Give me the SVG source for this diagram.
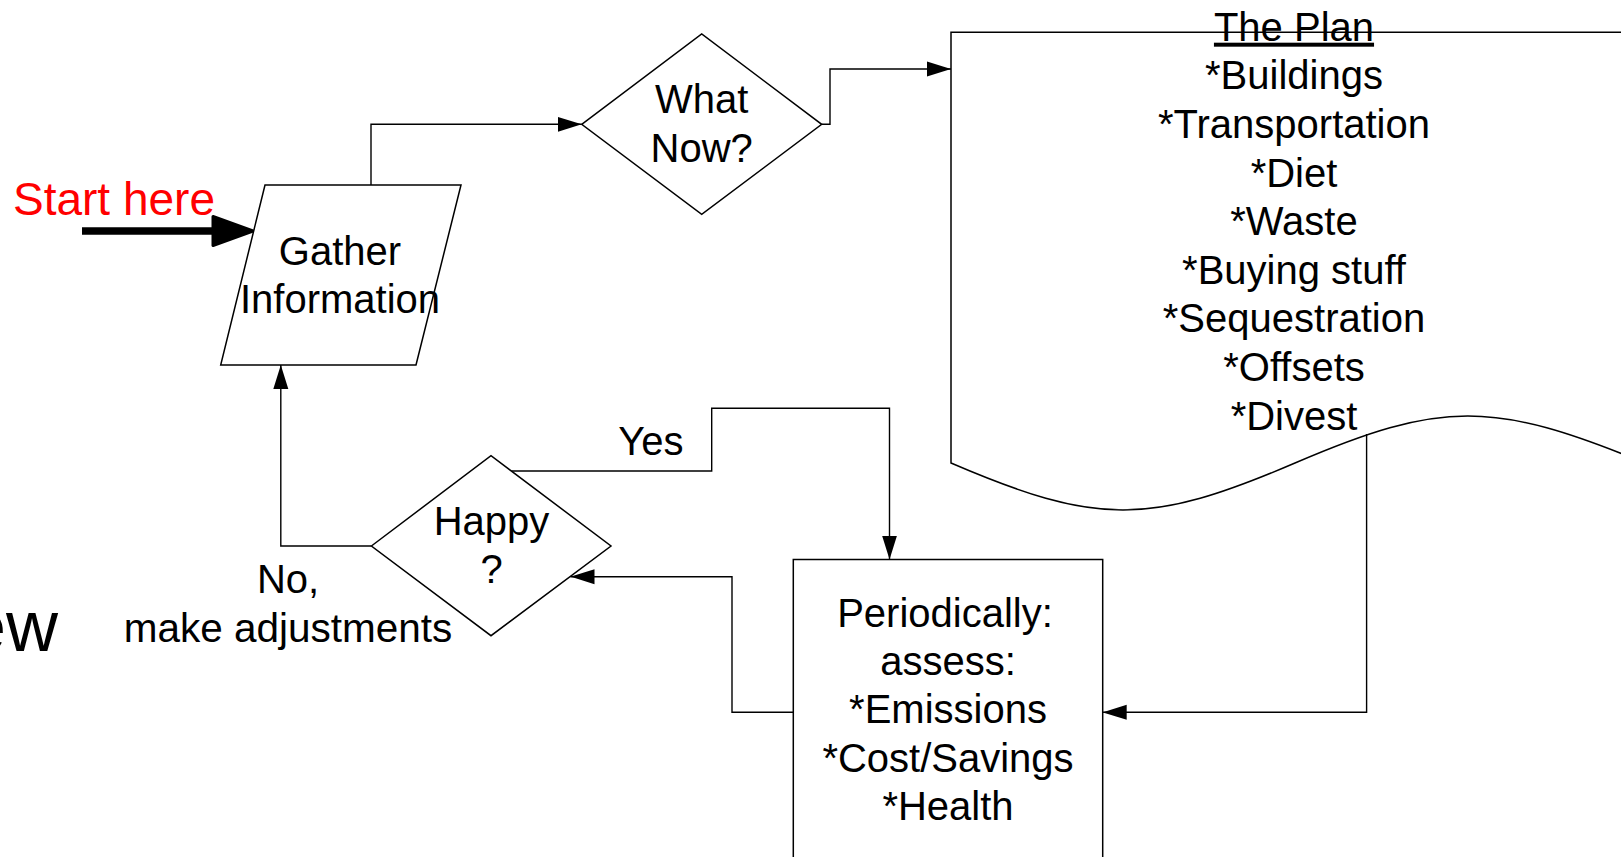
<svg xmlns="http://www.w3.org/2000/svg" width="1621" height="857" viewBox="0 0 1621 857">
<defs>
<style>
.shape{fill:#fff;stroke:#000;stroke-width:1.5;stroke-linejoin:miter}
.conn{fill:none;stroke:#000;stroke-width:1.4}
.t{font-family:"Liberation Sans",Arial,sans-serif;font-size:40px;fill:#000;text-anchor:middle}
</style>
<marker id="arr" markerUnits="userSpaceOnUse" markerWidth="24" markerHeight="16" refX="24" refY="8" orient="auto" viewBox="0 0 24 16">
<path d="M0,0.5 L24,8 L0,15.5 z" fill="#000"/>
</marker>
</defs>
<rect x="0" y="0" width="1621" height="857" fill="#fff"/>

<g id="plan">
<path class="shape" d="M951,32.3 H1645 V463 C1493,400.3 1441,400.3 1295,463 C1149,525.7 1097,525.7 951,463 Z"/>
<text class="t" x="1294" y="40.7" text-decoration="underline">The Plan</text>
<text class="t" x="1294" y="89.3">*Buildings</text>
<text class="t" x="1294" y="137.9">*Transportation</text>
<text class="t" x="1294" y="186.5">*Diet</text>
<text class="t" x="1294" y="235.1">*Waste</text>
<text class="t" x="1294" y="283.7">*Buying stuff</text>
<text class="t" x="1294" y="332.3">*Sequestration</text>
<text class="t" x="1294" y="380.9">*Offsets</text>
<text class="t" x="1294" y="429.5">*Divest</text>
</g>

<g id="connectors">
<path class="conn" d="M371,185 V124.3 H581.7" marker-end="url(#arr)"/>
<path class="conn" d="M821.7,124.3 H830 V69 H951" marker-end="url(#arr)"/>
<path class="conn" d="M1366.6,434 V712.3 H1102.7" marker-end="url(#arr)"/>
<path class="conn" d="M793.3,712.3 H732 V576.7 H570.5" marker-end="url(#arr)"/>
<path class="conn" d="M511.4,471 H711.7 V408.3 H889.5 V559.5" marker-end="url(#arr)"/>
<path class="conn" d="M371.4,546 H280.8 V365" marker-end="url(#arr)"/>
<line x1="82" y1="231" x2="214" y2="231" stroke="#000" stroke-width="7.5"/>
<polygon points="213,216.5 253,231 213,245.5" fill="#000" stroke="#000" stroke-width="3" stroke-linejoin="round"/>
</g>

<g id="gather">
<polygon class="shape" points="265,185 461,185 416,365 220.7,365"/>
<text class="t" x="340" y="265">Gather</text>
<text class="t" x="340" y="313">Information</text>
</g>

<g id="whatnow">
<polygon class="shape" points="581.7,124.3 701.7,34 821.7,124.3 701.7,214.3"/>
<text class="t" x="701.7" y="113.3">What</text>
<text class="t" x="701.7" y="161.7">Now?</text>
</g>

<g id="happy">
<polygon class="shape" points="371.4,546 491,455.7 611,546 491,635.7"/>
<text class="t" x="491.5" y="535">Happy</text>
<text class="t" x="491.5" y="583.3">?</text>
</g>

<g id="periodic">
<rect class="shape" x="793.3" y="559.5" width="309.4" height="320"/>
<text class="t" x="945" y="626.7">Periodically:</text>
<text class="t" x="948" y="675">assess:</text>
<text class="t" x="948" y="723.3">*Emissions</text>
<text class="t" x="948" y="771.6">*Cost/Savings</text>
<text class="t" x="948" y="820">*Health</text>
</g>

<g id="labels">
<text x="13" y="215" style="font-family:'Liberation Sans',Arial,sans-serif;font-size:46px;fill:#ff0000">Start here</text>
<text class="t" x="651" y="455">Yes</text>
<text class="t" x="288" y="593.3">No,</text>
<text class="t" x="288" y="641.7" style="font-size:40.5px">make adjustments</text>
<text x="58" y="651" style="font-family:'Liberation Sans',Arial,sans-serif;font-size:72px;fill:#000;text-anchor:end">ew</text>
</g>
</svg>
